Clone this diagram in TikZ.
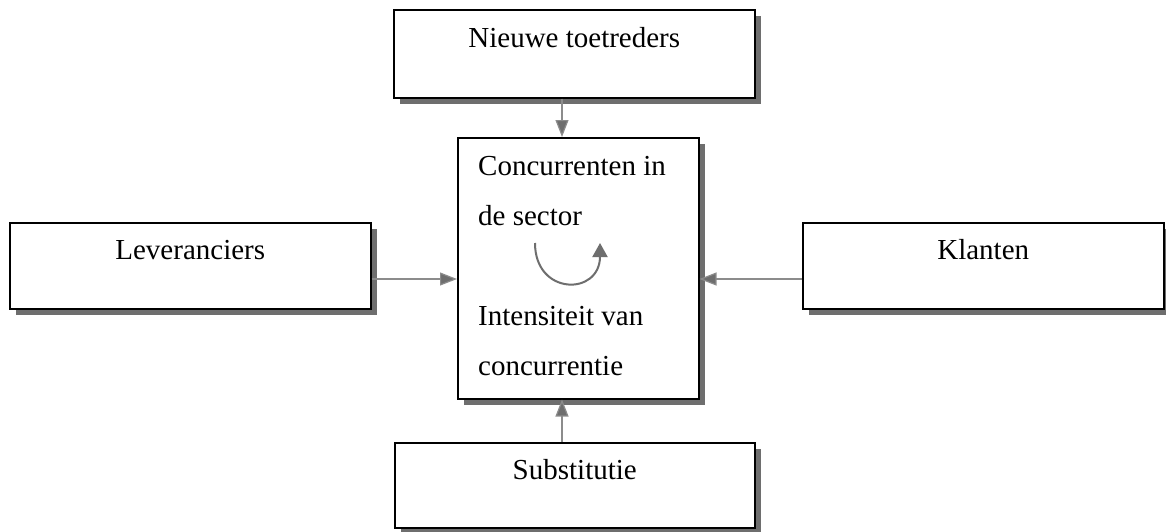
\documentclass[tikz,border=0pt]{standalone}
\usepackage{fontspec}
\setmainfont{Liberation Serif}
\usetikzlibrary{arrows.meta}
\usetikzlibrary{positioning}
\usetikzlibrary{shadows}

\definecolor{shadowgrey}{HTML}{6E6E6E}
\definecolor{arrowgrey}{HTML}{8C8C8C}

\tikzset{
  force/.style={draw=black, line width=1.5pt, fill=white, inner sep=0pt,
    anchor=north west,
    general shadow={fill=shadowgrey, shadow xshift=6pt, shadow yshift=-6pt},
    font=\fontsize{29}{34}\selectfont},
  pull/.style={-{Triangle[length=17pt,width=13pt,fill=shadowgrey]},
    draw=arrowgrey, line width=1.2pt},
  boxtext/.style={font=\fontsize{29}{34}\selectfont, inner sep=0pt,
    anchor=base west},
}

\begin{document}
\begin{tikzpicture}[x=1pt, y=-1pt]
\useasboundingbox (0,0) rectangle (1166,531);
% the five forces
\node[force, minimum width=361pt, text height=38pt, text depth=50pt]
  (entrants) at (393,9) {Nieuwe toetreders};
\node[force, minimum width=361pt, text height=37pt, text depth=49pt]
  (suppliers) at (9,222) {Leveranciers};
\node[force, minimum width=361pt, text height=37pt, text depth=49pt]
  (customers) at (802,222) {Klanten};
\node[force, minimum width=360pt, text height=37pt, text depth=48pt]
  (substitutes) at (394,442) {Substitutie};
\node[force, minimum width=241pt, minimum height=261pt]
  (centre) at (457,137) {};
% text in the middle box
\foreach \txt/\dy [count=\k] in {Concurrenten in/38, de sector/88,
    Intensiteit van/188, concurrentie/238}
  \node[boxtext] (line\k) at ([shift={(21,\dy)}]centre.north west) {\txt};
%
% arrows into the middle box
\coordinate (axisx) at (562,0);
\coordinate (axisy) at (0,279);
\draw[pull] (entrants.south -| axisx) -- (centre.north -| axisx);
\draw[pull] (substitutes.north -| axisx) -- (centre.south -| axisx);
\draw[pull] (suppliers.east |- axisy) -- (centre.west |- axisy);
\draw[pull] (customers.west |- axisy) -- (centre.east |- axisy);
% turning arrow
\coordinate (turnstart) at (535,243);
\coordinate (turnend) at (600,243);
\draw[pull, draw=shadowgrey, line width=2pt,
  -{Triangle[length=14pt,width=15pt,fill=shadowgrey]}]
  (turnstart) .. controls (535,296) and (600,296) .. (turnend);
\end{tikzpicture}
\end{document}
